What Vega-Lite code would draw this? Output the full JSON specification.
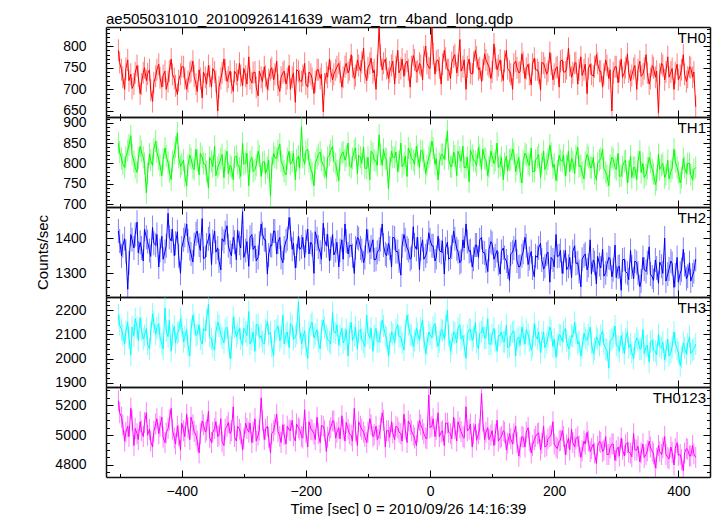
{
"$schema":"https://vega.github.io/schema/vega-lite/v6.json",
"background":"white",
"padding":{"left":35,"top":11,"right":5,"bottom":2},
"title":{"text":"ae505031010_20100926141639_wam2_trn_4band_long.qdp","anchor":"start","frame":"group","baseline":"alphabetic","offset":-17,"fontSize":15,"fontWeight":"normal","font":"Liberation Sans","color":"#000"},
"data":{"values":[
{"t":-502,"a":790,"b":850,"c":1420,"d":2180,"e":5230},
{"t":-497,"a":745,"b":812,"c":1350,"d":2120,"e":5120},
{"t":-492,"a":700,"b":790,"c":1398,"d":2060,"e":4960},
{"t":-487,"a":768,"b":832,"c":1255,"d":2150,"e":5060},
{"t":-482,"a":735,"b":868,"c":1410,"d":2015,"e":5180},
{"t":-477,"a":712,"b":805,"c":1372,"d":2095,"e":4930},
{"t":-472,"a":755,"b":778,"c":1445,"d":2130,"e":5010},
{"t":-467,"a":690,"b":842,"c":1388,"d":2170,"e":5090},
{"t":-462,"a":738,"b":815,"c":1335,"d":2080,"e":4990},
{"t":-457,"a":720,"b":728,"c":1402,"d":2125,"e":5150},
{"t":-452,"a":745,"b":823,"c":1365,"d":2040,"e":5040},
{"t":-447,"a":672,"b":795,"c":1430,"d":2185,"e":4920},
{"t":-442,"a":730,"b":855,"c":1380,"d":2100,"e":5075},
{"t":-437,"a":758,"b":810,"c":1318,"d":2145,"e":5010},
{"t":-432,"a":705,"b":770,"c":1405,"d":2060,"e":5120},
{"t":-427,"a":742,"b":838,"c":1362,"d":2210,"e":4950},
{"t":-422,"a":718,"b":802,"c":1470,"d":2090,"e":5045},
{"t":-417,"a":770,"b":760,"c":1392,"d":2030,"e":5180},
{"t":-412,"a":725,"b":825,"c":1350,"d":2135,"e":4980},
{"t":-407,"a":688,"b":875,"c":1418,"d":2105,"e":5060},
{"t":-402,"a":735,"b":792,"c":1300,"d":2165,"e":4900},
{"t":-397,"a":752,"b":808,"c":1395,"d":2070,"e":5030},
{"t":-392,"a":700,"b":745,"c":1440,"d":2120,"e":5140},
{"t":-387,"a":738,"b":820,"c":1370,"d":2010,"e":4970},
{"t":-382,"a":765,"b":790,"c":1332,"d":2180,"e":5070},
{"t":-377,"a":712,"b":835,"c":1412,"d":2095,"e":5000},
{"t":-372,"a":745,"b":772,"c":1380,"d":2140,"e":4880},
{"t":-367,"a":680,"b":815,"c":1455,"d":2060,"e":5095},
{"t":-362,"a":728,"b":798,"c":1345,"d":2115,"e":5020},
{"t":-357,"a":755,"b":740,"c":1398,"d":2225,"e":5160},
{"t":-352,"a":705,"b":805,"c":1325,"d":2080,"e":4950},
{"t":-347,"a":740,"b":842,"c":1420,"d":2035,"e":5045},
{"t":-342,"a":650,"b":790,"c":1372,"d":2150,"e":4990},
{"t":-337,"a":725,"b":812,"c":1310,"d":2100,"e":5110},
{"t":-332,"a":770,"b":765,"c":1390,"d":2065,"e":4930},
{"t":-327,"a":718,"b":830,"c":1435,"d":2130,"e":5060},
{"t":-322,"a":742,"b":795,"c":1360,"d":2000,"e":5010},
{"t":-317,"a":695,"b":760,"c":1402,"d":2170,"e":5190},
{"t":-312,"a":735,"b":818,"c":1338,"d":2090,"e":4960},
{"t":-307,"a":760,"b":788,"c":1385,"d":2125,"e":5040},
{"t":-302,"a":708,"b":850,"c":1475,"d":2055,"e":4900},
{"t":-297,"a":730,"b":802,"c":1365,"d":2110,"e":5080},
{"t":-292,"a":775,"b":745,"c":1320,"d":2195,"e":5020},
{"t":-287,"a":715,"b":815,"c":1410,"d":2080,"e":4950},
{"t":-282,"a":740,"b":785,"c":1378,"d":2030,"e":5110},
{"t":-277,"a":685,"b":830,"c":1345,"d":2140,"e":5000},
{"t":-272,"a":728,"b":768,"c":1440,"d":2095,"e":5250},
{"t":-267,"a":752,"b":805,"c":1395,"d":2060,"e":4970},
{"t":-262,"a":700,"b":790,"c":1298,"d":2155,"e":5060},
{"t":-257,"a":745,"b":720,"c":1380,"d":2110,"e":4880},
{"t":-252,"a":722,"b":825,"c":1420,"d":2010,"e":5030},
{"t":-247,"a":765,"b":812,"c":1355,"d":2120,"e":5140},
{"t":-242,"a":695,"b":848,"c":1402,"d":2075,"e":4990},
{"t":-237,"a":738,"b":795,"c":1330,"d":2180,"e":5070},
{"t":-232,"a":712,"b":772,"c":1392,"d":2100,"e":4940},
{"t":-227,"a":755,"b":830,"c":1458,"d":2045,"e":5035},
{"t":-222,"a":728,"b":805,"c":1368,"d":2135,"e":5100},
{"t":-217,"a":670,"b":760,"c":1315,"d":2090,"e":4960},
{"t":-212,"a":742,"b":818,"c":1405,"d":2235,"e":5050},
{"t":-207,"a":718,"b":890,"c":1375,"d":2060,"e":4990},
{"t":-202,"a":760,"b":798,"c":1345,"d":2115,"e":5170},
{"t":-197,"a":705,"b":835,"c":1425,"d":2000,"e":4920},
{"t":-192,"a":735,"b":785,"c":1388,"d":2140,"e":5040},
{"t":-187,"a":690,"b":745,"c":1300,"d":2085,"e":5010},
{"t":-182,"a":745,"b":812,"c":1398,"d":2120,"e":5120},
{"t":-177,"a":725,"b":828,"c":1360,"d":2040,"e":4950},
{"t":-172,"a":648,"b":795,"c":1442,"d":2160,"e":5060},
{"t":-167,"a":738,"b":765,"c":1378,"d":2095,"e":4890},
{"t":-162,"a":770,"b":820,"c":1335,"d":2070,"e":5030},
{"t":-157,"a":722,"b":842,"c":1410,"d":2190,"e":5095},
{"t":-152,"a":745,"b":800,"c":1365,"d":2105,"e":4980},
{"t":-147,"a":760,"b":758,"c":1318,"d":2055,"e":5050},
{"t":-142,"a":705,"b":825,"c":1395,"d":2125,"e":5130},
{"t":-137,"a":752,"b":808,"c":1440,"d":2080,"e":4960},
{"t":-132,"a":738,"b":850,"c":1355,"d":2010,"e":5040},
{"t":-127,"a":780,"b":790,"c":1380,"d":2150,"e":5000},
{"t":-122,"a":725,"b":832,"c":1300,"d":2095,"e":5180},
{"t":-117,"a":768,"b":775,"c":1402,"d":2040,"e":4930},
{"t":-112,"a":742,"b":815,"c":1372,"d":2120,"e":5060},
{"t":-107,"a":795,"b":840,"c":1330,"d":2065,"e":5020},
{"t":-102,"a":720,"b":788,"c":1425,"d":2180,"e":4950},
{"t":-97,"a":760,"b":760,"c":1360,"d":2085,"e":5110},
{"t":-92,"a":738,"b":825,"c":1395,"d":2030,"e":4990},
{"t":-87,"a":700,"b":805,"c":1340,"d":2125,"e":5060},
{"t":-82,"a":842,"b":870,"c":1368,"d":2070,"e":5000},
{"t":-77,"a":745,"b":795,"c":1440,"d":2160,"e":5150},
{"t":-72,"a":770,"b":812,"c":1355,"d":2095,"e":4920},
{"t":-67,"a":725,"b":738,"c":1385,"d":2010,"e":5030},
{"t":-62,"a":755,"b":830,"c":1318,"d":2110,"e":5090},
{"t":-57,"a":712,"b":815,"c":1400,"d":2065,"e":4970},
{"t":-52,"a":790,"b":780,"c":1362,"d":2140,"e":5050},
{"t":-47,"a":748,"b":850,"c":1295,"d":2090,"e":5010},
{"t":-42,"a":730,"b":800,"c":1410,"d":2035,"e":5140},
{"t":-37,"a":765,"b":768,"c":1372,"d":2180,"e":4950},
{"t":-32,"a":705,"b":825,"c":1340,"d":2100,"e":5070},
{"t":-27,"a":778,"b":808,"c":1432,"d":2050,"e":5000},
{"t":-22,"a":740,"b":842,"c":1368,"d":2125,"e":4930},
{"t":-17,"a":760,"b":790,"c":1310,"d":2075,"e":5100},
{"t":-12,"a":722,"b":830,"c":1395,"d":2160,"e":5040},
{"t":-7,"a":800,"b":775,"c":1350,"d":2020,"e":4980},
{"t":-2,"a":750,"b":815,"c":1415,"d":2110,"e":5270},
{"t":3,"a":843,"b":855,"c":1378,"d":2085,"e":5060},
{"t":8,"a":735,"b":798,"c":1335,"d":2145,"e":4990},
{"t":13,"a":768,"b":760,"c":1405,"d":2050,"e":5150},
{"t":18,"a":712,"b":822,"c":1360,"d":2120,"e":5020},
{"t":23,"a":790,"b":810,"c":1298,"d":2080,"e":4930},
{"t":28,"a":745,"b":880,"c":1388,"d":2200,"e":5080},
{"t":33,"a":725,"b":792,"c":1345,"d":2030,"e":5010},
{"t":38,"a":775,"b":828,"c":1420,"d":2110,"e":5120},
{"t":43,"a":738,"b":770,"c":1370,"d":2065,"e":4960},
{"t":48,"a":815,"b":815,"c":1330,"d":2140,"e":5050},
{"t":53,"a":752,"b":842,"c":1395,"d":2095,"e":4990},
{"t":58,"a":700,"b":790,"c":1440,"d":2000,"e":5190},
{"t":63,"a":770,"b":755,"c":1362,"d":2120,"e":5040},
{"t":68,"a":735,"b":820,"c":1318,"d":2075,"e":4920},
{"t":73,"a":790,"b":805,"c":1380,"d":2150,"e":5070},
{"t":78,"a":745,"b":840,"c":1345,"d":2040,"e":5010},
{"t":83,"a":718,"b":785,"c":1402,"d":2110,"e":5280},
{"t":88,"a":782,"b":812,"c":1358,"d":2085,"e":4970},
{"t":93,"a":758,"b":770,"c":1305,"d":2165,"e":5050},
{"t":98,"a":725,"b":830,"c":1390,"d":2060,"e":5000},
{"t":103,"a":805,"b":800,"c":1340,"d":2125,"e":4930},
{"t":108,"a":745,"b":850,"c":1365,"d":2030,"e":5100},
{"t":113,"a":768,"b":795,"c":1298,"d":2095,"e":4980},
{"t":118,"a":720,"b":760,"c":1372,"d":2070,"e":5030},
{"t":123,"a":790,"b":818,"c":1335,"d":2140,"e":4900},
{"t":128,"a":742,"b":808,"c":1280,"d":2050,"e":5010},
{"t":133,"a":700,"b":835,"c":1360,"d":2110,"e":4940},
{"t":138,"a":765,"b":780,"c":1395,"d":2010,"e":5060},
{"t":143,"a":738,"b":815,"c":1318,"d":2090,"e":4860},
{"t":148,"a":782,"b":752,"c":1350,"d":2130,"e":4990},
{"t":153,"a":725,"b":825,"c":1402,"d":2060,"e":4920},
{"t":158,"a":758,"b":800,"c":1325,"d":2100,"e":5050},
{"t":163,"a":710,"b":838,"c":1362,"d":2035,"e":4880},
{"t":168,"a":772,"b":780,"c":1290,"d":2145,"e":4970},
{"t":173,"a":745,"b":815,"c":1345,"d":2080,"e":5010},
{"t":178,"a":698,"b":765,"c":1385,"d":2025,"e":4900},
{"t":183,"a":760,"b":830,"c":1312,"d":2110,"e":5060},
{"t":188,"a":735,"b":798,"c":1355,"d":2065,"e":4930},
{"t":193,"a":785,"b":845,"c":1275,"d":2130,"e":4990},
{"t":198,"a":722,"b":790,"c":1338,"d":2050,"e":5090},
{"t":203,"a":750,"b":758,"c":1410,"d":2005,"e":4920},
{"t":208,"a":705,"b":820,"c":1350,"d":2100,"e":4960},
{"t":213,"a":768,"b":805,"c":1300,"d":2070,"e":5030},
{"t":218,"a":740,"b":770,"c":1365,"d":2125,"e":4870},
{"t":223,"a":795,"b":830,"c":1320,"d":2040,"e":4980},
{"t":228,"a":728,"b":812,"c":1288,"d":2095,"e":5040},
{"t":233,"a":760,"b":775,"c":1378,"d":2150,"e":4920},
{"t":238,"a":712,"b":840,"c":1330,"d":2060,"e":4990},
{"t":243,"a":775,"b":795,"c":1262,"d":2010,"e":4850},
{"t":248,"a":745,"b":762,"c":1350,"d":2105,"e":4960},
{"t":253,"a":690,"b":822,"c":1310,"d":2075,"e":5020},
{"t":258,"a":758,"b":790,"c":1395,"d":2130,"e":4890},
{"t":263,"a":730,"b":815,"c":1338,"d":2020,"e":4940},
{"t":268,"a":780,"b":760,"c":1270,"d":2090,"e":4810},
{"t":273,"a":742,"b":808,"c":1325,"d":2055,"e":4960},
{"t":278,"a":705,"b":835,"c":1368,"d":2115,"e":4890},
{"t":283,"a":768,"b":778,"c":1302,"d":2040,"e":4990},
{"t":288,"a":725,"b":745,"c":1345,"d":1960,"e":4870},
{"t":293,"a":650,"b":815,"c":1290,"d":2080,"e":4940},
{"t":298,"a":752,"b":790,"c":1380,"d":2135,"e":4830},
{"t":303,"a":715,"b":825,"c":1318,"d":2050,"e":4920},
{"t":308,"a":770,"b":770,"c":1252,"d":2095,"e":4980},
{"t":313,"a":738,"b":805,"c":1340,"d":2020,"e":4860},
{"t":318,"a":782,"b":752,"c":1300,"d":2110,"e":4950},
{"t":323,"a":720,"b":818,"c":1365,"d":2060,"e":4880},
{"t":328,"a":748,"b":790,"c":1285,"d":2000,"e":5010},
{"t":333,"a":700,"b":760,"c":1330,"d":2085,"e":4900},
{"t":338,"a":765,"b":830,"c":1262,"d":2040,"e":4820},
{"t":343,"a":735,"b":800,"c":1345,"d":2120,"e":4940},
{"t":348,"a":780,"b":772,"c":1305,"d":2050,"e":4870},
{"t":353,"a":712,"b":815,"c":1375,"d":1985,"e":4960},
{"t":358,"a":755,"b":785,"c":1290,"d":2075,"e":4890},
{"t":363,"a":728,"b":748,"c":1338,"d":2030,"e":4780},
{"t":368,"a":645,"b":822,"c":1272,"d":2100,"e":4930},
{"t":373,"a":760,"b":795,"c":1320,"d":2045,"e":4870},
{"t":378,"a":722,"b":765,"c":1400,"d":1995,"e":4990},
{"t":383,"a":775,"b":808,"c":1298,"d":2080,"e":4850},
{"t":388,"a":740,"b":780,"c":1335,"d":2025,"e":4920},
{"t":393,"a":700,"b":835,"c":1260,"d":2110,"e":4800},
{"t":398,"a":758,"b":790,"c":1345,"d":2040,"e":4950},
{"t":403,"a":732,"b":752,"c":1300,"d":1970,"e":4870},
{"t":408,"a":780,"b":812,"c":1368,"d":2065,"e":4760},
{"t":413,"a":718,"b":775,"c":1285,"d":2020,"e":4910},
{"t":418,"a":752,"b":800,"c":1330,"d":2090,"e":4860},
{"t":423,"a":728,"b":760,"c":1295,"d":2035,"e":4930},
{"t":428,"a":660,"b":790,"c":1340,"d":2060,"e":4850},
{"t":-500,"a":762,"b":828,"c":1392,"d":2140,"e":5150},
{"t":-495,"a":728,"b":798,"c":1378,"d":2098,"e":5070},
{"t":-490,"a":748,"b":815,"c":1362,"d":2110,"e":5020},
{"t":-485,"a":720,"b":845,"c":1330,"d":2085,"e":4990},
{"t":-480,"a":702,"b":822,"c":1395,"d":2130,"e":5100},
{"t":-475,"a":738,"b":790,"c":1410,"d":2165,"e":5045},
{"t":-470,"a":730,"b":812,"c":1358,"d":2075,"e":4970},
{"t":-465,"a":712,"b":830,"c":1372,"d":2120,"e":5030},
{"t":-460,"a":750,"b":800,"c":1425,"d":2095,"e":5085},
{"t":-455,"a":736,"b":775,"c":1390,"d":2060,"e":5000},
{"t":-450,"a":698,"b":808,"c":1348,"d":2105,"e":4960},
{"t":-445,"a":715,"b":835,"c":1385,"d":2150,"e":5025},
{"t":-440,"a":745,"b":828,"c":1410,"d":2128,"e":5110},
{"t":-435,"a":727,"b":795,"c":1365,"d":2088,"e":5060},
{"t":-430,"a":732,"b":810,"c":1340,"d":2040,"e":4985},
{"t":-425,"a":700,"b":818,"c":1378,"d":2115,"e":5015},
{"t":-420,"a":742,"b":780,"c":1402,"d":2160,"e":5100},
{"t":-415,"a":735,"b":805,"c":1425,"d":2098,"e":5040},
{"t":-410,"a":708,"b":840,"c":1385,"d":2065,"e":4940},
{"t":-405,"a":720,"b":815,"c":1350,"d":2110,"e":5000},
{"t":-400,"a":752,"b":798,"c":1372,"d":2135,"e":5080},
{"t":-395,"a":725,"b":770,"c":1408,"d":2090,"e":4990},
{"t":-390,"a":718,"b":795,"c":1392,"d":2055,"e":5050},
{"t":-385,"a":742,"b":812,"c":1355,"d":2120,"e":5120},
{"t":-380,"a":730,"b":785,"c":1382,"d":2145,"e":5025},
{"t":-375,"a":695,"b":808,"c":1420,"d":2100,"e":4960},
{"t":-370,"a":725,"b":825,"c":1365,"d":2080,"e":5010},
{"t":-365,"a":740,"b":800,"c":1342,"d":2125,"e":5070},
{"t":-360,"a":712,"b":780,"c":1380,"d":2160,"e":5035},
{"t":-355,"a":730,"b":815,"c":1412,"d":2090,"e":4985},
{"t":-350,"a":748,"b":792,"c":1390,"d":2050,"e":5020},
{"t":-345,"a":718,"b":770,"c":1360,"d":2110,"e":5090},
{"t":-340,"a":705,"b":798,"c":1335,"d":2135,"e":5000},
{"t":-335,"a":738,"b":822,"c":1398,"d":2085,"e":4955},
{"t":-330,"a":745,"b":808,"c":1415,"d":2120,"e":5040},
{"t":-325,"a":728,"b":775,"c":1378,"d":2075,"e":5085},
{"t":-320,"a":715,"b":790,"c":1350,"d":2045,"e":5030},
{"t":-315,"a":742,"b":815,"c":1388,"d":2130,"e":4990},
{"t":-310,"a":720,"b":800,"c":1422,"d":2105,"e":5060},
{"t":-305,"a":732,"b":768,"c":1372,"d":2080,"e":5010},
{"t":-300,"a":748,"b":798,"c":1345,"d":2125,"e":4975},
{"t":-295,"a":712,"b":825,"c":1390,"d":2095,"e":5045},
{"t":-290,"a":725,"b":805,"c":1402,"d":2060,"e":5080},
{"t":-285,"a":738,"b":780,"c":1368,"d":2110,"e":5020},
{"t":-280,"a":705,"b":795,"c":1335,"d":2140,"e":4960},
{"t":-275,"a":742,"b":818,"c":1385,"d":2085,"e":5035},
{"t":-270,"a":718,"b":802,"c":1412,"d":2070,"e":5100},
{"t":-265,"a":730,"b":775,"c":1395,"d":2120,"e":5040},
{"t":-260,"a":722,"b":808,"c":1352,"d":2100,"e":4985},
{"t":-255,"a":750,"b":790,"c":1378,"d":2050,"e":5010},
{"t":-250,"a":735,"b":815,"c":1420,"d":2115,"e":5070},
{"t":-245,"a":710,"b":832,"c":1388,"d":2135,"e":5025},
{"t":-240,"a":728,"b":805,"c":1345,"d":2090,"e":4950},
{"t":-235,"a":742,"b":780,"c":1372,"d":2060,"e":5005},
{"t":-230,"a":725,"b":812,"c":1398,"d":2110,"e":5060},
{"t":-225,"a":700,"b":798,"c":1425,"d":2145,"e":5030},
{"t":-220,"a":738,"b":825,"c":1385,"d":2080,"e":4995},
{"t":-215,"a":745,"b":808,"c":1350,"d":2105,"e":5075},
{"t":-210,"a":720,"b":788,"c":1368,"d":2125,"e":5040},
{"t":-205,"a":732,"b":815,"c":1402,"d":2085,"e":4980},
{"t":-200,"a":712,"b":830,"c":1390,"d":2055,"e":5020},
{"t":-195,"a":740,"b":805,"c":1355,"d":2110,"e":5090},
{"t":-190,"a":725,"b":778,"c":1382,"d":2150,"e":5035},
{"t":-185,"a":718,"b":800,"c":1418,"d":2100,"e":4970},
{"t":-180,"a":745,"b":822,"c":1375,"d":2070,"e":5010},
{"t":-175,"a":735,"b":808,"c":1340,"d":2115,"e":5065},
{"t":-170,"a":712,"b":790,"c":1395,"d":2130,"e":5030},
{"t":-165,"a":728,"b":815,"c":1410,"d":2080,"e":4985},
{"t":-160,"a":742,"b":832,"c":1370,"d":2060,"e":5050},
{"t":-155,"a":735,"b":805,"c":1352,"d":2110,"e":5095},
{"t":-150,"a":752,"b":782,"c":1388,"d":2140,"e":5020},
{"t":-145,"a":740,"b":810,"c":1365,"d":2095,"e":4975},
{"t":-140,"a":728,"b":828,"c":1340,"d":2065,"e":5040},
{"t":-135,"a":760,"b":818,"c":1392,"d":2120,"e":5085},
{"t":-130,"a":745,"b":795,"c":1378,"d":2105,"e":5010},
{"t":-125,"a":752,"b":812,"c":1350,"d":2075,"e":4960},
{"t":-120,"a":732,"b":838,"c":1372,"d":2130,"e":5030},
{"t":-115,"a":755,"b":820,"c":1398,"d":2110,"e":5090},
{"t":-110,"a":762,"b":800,"c":1365,"d":2080,"e":5040},
{"t":-105,"a":738,"b":788,"c":1345,"d":2050,"e":4990},
{"t":-100,"a":750,"b":815,"c":1390,"d":2105,"e":5020},
{"t":-95,"a":772,"b":830,"c":1375,"d":2125,"e":5070},
{"t":-90,"a":745,"b":808,"c":1338,"d":2095,"e":5005},
{"t":-85,"a":755,"b":795,"c":1360,"d":2070,"e":4970},
{"t":-80,"a":778,"b":822,"c":1395,"d":2110,"e":5045},
{"t":-75,"a":760,"b":835,"c":1380,"d":2135,"e":5100},
{"t":-70,"a":748,"b":810,"c":1350,"d":2085,"e":5030},
{"t":-65,"a":740,"b":790,"c":1372,"d":2060,"e":4985},
{"t":-60,"a":765,"b":815,"c":1402,"d":2100,"e":5015},
{"t":-55,"a":752,"b":828,"c":1362,"d":2120,"e":5060},
{"t":-50,"a":738,"b":805,"c":1335,"d":2090,"e":5020},
{"t":-45,"a":770,"b":792,"c":1378,"d":2065,"e":4960},
{"t":-40,"a":758,"b":818,"c":1395,"d":2115,"e":5040},
{"t":-35,"a":745,"b":838,"c":1365,"d":2140,"e":5095},
{"t":-30,"a":752,"b":812,"c":1345,"d":2095,"e":5030},
{"t":-25,"a":768,"b":798,"c":1380,"d":2075,"e":4980},
{"t":-20,"a":742,"b":820,"c":1402,"d":2105,"e":5025},
{"t":-15,"a":755,"b":832,"c":1370,"d":2125,"e":5070},
{"t":-10,"a":775,"b":808,"c":1340,"d":2085,"e":5010},
{"t":-5,"a":760,"b":795,"c":1362,"d":2060,"e":4975},
{"t":0,"a":748,"b":825,"c":1395,"d":2100,"e":5050},
{"t":5,"a":782,"b":838,"c":1378,"d":2130,"e":5110},
{"t":10,"a":765,"b":812,"c":1345,"d":2090,"e":5040},
{"t":15,"a":750,"b":800,"c":1365,"d":2070,"e":4990},
{"t":20,"a":758,"b":822,"c":1392,"d":2115,"e":5030},
{"t":25,"a":772,"b":835,"c":1370,"d":2135,"e":5080},
{"t":30,"a":745,"b":810,"c":1340,"d":2095,"e":5020},
{"t":35,"a":762,"b":792,"c":1375,"d":2060,"e":4975},
{"t":40,"a":780,"b":818,"c":1398,"d":2105,"e":5045},
{"t":45,"a":755,"b":830,"c":1362,"d":2125,"e":5090},
{"t":50,"a":742,"b":805,"c":1335,"d":2080,"e":5025},
{"t":55,"a":768,"b":790,"c":1372,"d":2055,"e":4980},
{"t":60,"a":752,"b":815,"c":1390,"d":2100,"e":5030},
{"t":65,"a":738,"b":832,"c":1365,"d":2120,"e":5075},
{"t":70,"a":762,"b":808,"c":1340,"d":2090,"e":5010},
{"t":75,"a":775,"b":795,"c":1380,"d":2065,"e":4965},
{"t":80,"a":750,"b":820,"c":1395,"d":2105,"e":5040},
{"t":85,"a":745,"b":835,"c":1360,"d":2130,"e":5095},
{"t":90,"a":768,"b":810,"c":1335,"d":2085,"e":5020},
{"t":95,"a":752,"b":792,"c":1368,"d":2060,"e":4970},
{"t":100,"a":740,"b":818,"c":1385,"d":2100,"e":5030},
{"t":105,"a":772,"b":808,"c":1350,"d":2075,"e":5005},
{"t":110,"a":755,"b":790,"c":1328,"d":2095,"e":4960},
{"t":115,"a":742,"b":815,"c":1362,"d":2110,"e":4990},
{"t":120,"a":765,"b":800,"c":1345,"d":2070,"e":5020},
{"t":125,"a":748,"b":782,"c":1318,"d":2045,"e":4945},
{"t":130,"a":735,"b":810,"c":1355,"d":2095,"e":4975},
{"t":135,"a":758,"b":825,"c":1372,"d":2115,"e":5010},
{"t":140,"a":750,"b":798,"c":1335,"d":2080,"e":4950},
{"t":145,"a":740,"b":780,"c":1320,"d":2055,"e":4915},
{"t":150,"a":762,"b":805,"c":1360,"d":2100,"e":4985},
{"t":155,"a":748,"b":820,"c":1378,"d":2120,"e":5020},
{"t":160,"a":735,"b":795,"c":1342,"d":2075,"e":4960},
{"t":165,"a":758,"b":780,"c":1315,"d":2050,"e":4930},
{"t":170,"a":745,"b":808,"c":1350,"d":2095,"e":4990},
{"t":175,"a":738,"b":822,"c":1372,"d":2110,"e":5015},
{"t":180,"a":762,"b":800,"c":1338,"d":2070,"e":4945},
{"t":185,"a":750,"b":785,"c":1320,"d":2045,"e":4920},
{"t":190,"a":742,"b":810,"c":1360,"d":2090,"e":4975},
{"t":195,"a":758,"b":825,"c":1345,"d":2115,"e":5000},
{"t":200,"a":735,"b":798,"c":1318,"d":2080,"e":4940},
{"t":205,"a":752,"b":782,"c":1348,"d":2055,"e":4910},
{"t":210,"a":765,"b":808,"c":1365,"d":2095,"e":4965},
{"t":215,"a":740,"b":820,"c":1332,"d":2110,"e":4990},
{"t":220,"a":748,"b":795,"c":1310,"d":2075,"e":4935},
{"t":225,"a":755,"b":780,"c":1345,"d":2050,"e":4900},
{"t":230,"a":738,"b":805,"c":1362,"d":2090,"e":4950},
{"t":235,"a":762,"b":818,"c":1328,"d":2105,"e":4975},
{"t":240,"a":745,"b":792,"c":1305,"d":2070,"e":4925},
{"t":245,"a":732,"b":778,"c":1340,"d":2045,"e":4895},
{"t":250,"a":758,"b":802,"c":1355,"d":2085,"e":4940},
{"t":255,"a":748,"b":815,"c":1322,"d":2100,"e":4960},
{"t":260,"a":735,"b":790,"c":1298,"d":2065,"e":4910},
{"t":265,"a":752,"b":775,"c":1330,"d":2040,"e":4880},
{"t":270,"a":760,"b":800,"c":1348,"d":2080,"e":4925},
{"t":275,"a":742,"b":812,"c":1315,"d":2095,"e":4950},
{"t":280,"a":735,"b":788,"c":1292,"d":2060,"e":4900},
{"t":285,"a":755,"b":770,"c":1325,"d":2035,"e":4870},
{"t":290,"a":745,"b":795,"c":1342,"d":2075,"e":4915},
{"t":295,"a":738,"b":810,"c":1310,"d":2090,"e":4940},
{"t":300,"a":752,"b":785,"c":1288,"d":2055,"e":4895},
{"t":305,"a":742,"b":768,"c":1320,"d":2030,"e":4860},
{"t":310,"a":728,"b":792,"c":1338,"d":2065,"e":4905},
{"t":315,"a":750,"b":808,"c":1305,"d":2080,"e":4935},
{"t":320,"a":740,"b":780,"c":1282,"d":2045,"e":4885},
{"t":325,"a":732,"b":765,"c":1318,"d":2025,"e":4855},
{"t":330,"a":755,"b":790,"c":1335,"d":2060,"e":4900},
{"t":335,"a":745,"b":805,"c":1300,"d":2075,"e":4925},
{"t":340,"a":730,"b":778,"c":1278,"d":2040,"e":4880},
{"t":345,"a":748,"b":765,"c":1312,"d":2020,"e":4850},
{"t":350,"a":738,"b":788,"c":1330,"d":2055,"e":4895},
{"t":355,"a":725,"b":802,"c":1298,"d":2070,"e":4920},
{"t":360,"a":750,"b":775,"c":1280,"d":2035,"e":4875},
{"t":365,"a":742,"b":760,"c":1315,"d":2015,"e":4845},
{"t":370,"a":735,"b":785,"c":1332,"d":2050,"e":4890},
{"t":375,"a":755,"b":800,"c":1300,"d":2068,"e":4915},
{"t":380,"a":740,"b":772,"c":1278,"d":2030,"e":4870},
{"t":385,"a":728,"b":762,"c":1312,"d":2010,"e":4840},
{"t":390,"a":748,"b":788,"c":1328,"d":2048,"e":4885},
{"t":395,"a":738,"b":805,"c":1295,"d":2065,"e":4910},
{"t":400,"a":722,"b":778,"c":1275,"d":2025,"e":4865},
{"t":405,"a":745,"b":765,"c":1310,"d":2005,"e":4835},
{"t":410,"a":735,"b":790,"c":1325,"d":2045,"e":4880},
{"t":415,"a":728,"b":800,"c":1292,"d":2060,"e":4905},
{"t":420,"a":750,"b":772,"c":1278,"d":2020,"e":4860},
{"t":425,"a":740,"b":785,"c":1305,"d":2040,"e":4875}
]},
"spacing":0,
"bounds":"flush",
"vconcat":[
{"width":604,"height":90,
"layer":[
{"mark":{"type":"tick","orient":"vertical","size":22,"thickness":1,"opacity":0.5,"color":"#ff0000","clip":true},
"encoding":{"x":{"field":"t","type":"quantitative","scale":{"domain":[-522,451],"nice":false,"zero":false},"axis":{"orient":"bottom","title":null,"labels":false,"values":[-500,-400,-300,-200,-100,0,100,200,300,400],"tickSize":{"condition":{"test":"datum.value % 200 === 0","value":-7},"value":-3.5}}},
"y":{"field":"a","type":"quantitative","scale":{"domain":[636,844],"nice":false,"zero":false},"axis":{"orient":"left","title":null,"format":"d","values":[640,650,660,670,680,690,700,710,720,730,740,750,760,770,780,790,800,810,820,830,840],"labelExpr":"datum.value % 50 === 0 ? datum.label : ''","labelPadding":27,"tickSize":{"condition":{"test":"datum.value % 50 === 0","value":-7},"value":-3.5}}}}},
{"mark":{"type":"line","strokeWidth":1,"color":"#ff0000","clip":true},
"encoding":{"x":{"field":"t","type":"quantitative","scale":{"domain":[-522,451],"nice":false,"zero":false},"axis":{"orient":"top","title":null,"labels":false,"values":[-500,-400,-300,-200,-100,0,100,200,300,400],"tickSize":{"condition":{"test":"datum.value % 200 === 0","value":-7},"value":-3.5}}},
"y":{"field":"a","type":"quantitative","scale":{"domain":[636,844],"nice":false,"zero":false},"axis":{"orient":"right","title":null,"labels":false,"values":[640,650,660,670,680,690,700,710,720,730,740,750,760,770,780,790,800,810,820,830,840],"tickSize":{"condition":{"test":"datum.value % 50 === 0","value":-7},"value":-3.5}}}}},
{"data":{"values":[{"label":"TH0"}]},
"mark":{"type":"text","align":"right","baseline":"top","dx":-4,"dy":4,"fontSize":15,"font":"Liberation Sans","color":"#000"},
"encoding":{"x":{"datum":451,"type":"quantitative","axis":null},"y":{"datum":844,"type":"quantitative","axis":null},"text":{"field":"label"}}}
],
"resolve":{"axis":{"x":"independent","y":"independent"}}},
{"width":604,"height":90,
"layer":[
{"mark":{"type":"tick","orient":"vertical","size":22,"thickness":1,"opacity":0.5,"color":"#00ff00","clip":true},
"encoding":{"x":{"field":"t","type":"quantitative","scale":{"domain":[-522,451],"nice":false,"zero":false},"axis":{"orient":"bottom","title":null,"labels":false,"values":[-500,-400,-300,-200,-100,0,100,200,300,400],"tickSize":{"condition":{"test":"datum.value % 200 === 0","value":-7},"value":-3.5}}},
"y":{"field":"b","type":"quantitative","scale":{"domain":[693,914],"nice":false,"zero":false},"axis":{"orient":"left","title":null,"format":"d","values":[700,710,720,730,740,750,760,770,780,790,800,810,820,830,840,850,860,870,880,890,900,910],"labelExpr":"datum.value % 50 === 0 ? datum.label : ''","labelPadding":27,"tickSize":{"condition":{"test":"datum.value % 50 === 0","value":-7},"value":-3.5}}}}},
{"mark":{"type":"line","strokeWidth":1,"color":"#00ff00","clip":true},
"encoding":{"x":{"field":"t","type":"quantitative","scale":{"domain":[-522,451],"nice":false,"zero":false},"axis":{"orient":"top","title":null,"labels":false,"values":[-500,-400,-300,-200,-100,0,100,200,300,400],"tickSize":{"condition":{"test":"datum.value % 200 === 0","value":-7},"value":-3.5}}},
"y":{"field":"b","type":"quantitative","scale":{"domain":[693,914],"nice":false,"zero":false},"axis":{"orient":"right","title":null,"labels":false,"values":[700,710,720,730,740,750,760,770,780,790,800,810,820,830,840,850,860,870,880,890,900,910],"tickSize":{"condition":{"test":"datum.value % 50 === 0","value":-7},"value":-3.5}}}}},
{"data":{"values":[{"label":"TH1"}]},
"mark":{"type":"text","align":"right","baseline":"top","dx":-4,"dy":4,"fontSize":15,"font":"Liberation Sans","color":"#000"},
"encoding":{"x":{"datum":451,"type":"quantitative","axis":null},"y":{"datum":914,"type":"quantitative","axis":null},"text":{"field":"label"}}}
],
"resolve":{"axis":{"x":"independent","y":"independent"}}},
{"width":604,"height":90,
"layer":[
{"mark":{"type":"tick","orient":"vertical","size":24,"thickness":1,"opacity":0.5,"color":"#0000ff","clip":true},
"encoding":{"x":{"field":"t","type":"quantitative","scale":{"domain":[-522,451],"nice":false,"zero":false},"axis":{"orient":"bottom","title":null,"labels":false,"values":[-500,-400,-300,-200,-100,0,100,200,300,400],"tickSize":{"condition":{"test":"datum.value % 200 === 0","value":-7},"value":-3.5}}},
"y":{"field":"c","type":"quantitative","scale":{"domain":[1233,1488],"nice":false,"zero":false},"axis":{"orient":"left","title":"Counts/sec","titlePadding":4,"format":"d","values":[1240,1260,1280,1300,1320,1340,1360,1380,1400,1420,1440,1460,1480],"labelExpr":"datum.value % 100 === 0 ? datum.label : ''","labelPadding":27,"tickSize":{"condition":{"test":"datum.value % 100 === 0","value":-7},"value":-3.5}}}}},
{"mark":{"type":"line","strokeWidth":1,"color":"#0000ff","clip":true},
"encoding":{"x":{"field":"t","type":"quantitative","scale":{"domain":[-522,451],"nice":false,"zero":false},"axis":{"orient":"top","title":null,"labels":false,"values":[-500,-400,-300,-200,-100,0,100,200,300,400],"tickSize":{"condition":{"test":"datum.value % 200 === 0","value":-7},"value":-3.5}}},
"y":{"field":"c","type":"quantitative","scale":{"domain":[1233,1488],"nice":false,"zero":false},"axis":{"orient":"right","title":null,"labels":false,"values":[1240,1260,1280,1300,1320,1340,1360,1380,1400,1420,1440,1460,1480],"tickSize":{"condition":{"test":"datum.value % 100 === 0","value":-7},"value":-3.5}}}}},
{"data":{"values":[{"label":"TH2"}]},
"mark":{"type":"text","align":"right","baseline":"top","dx":-4,"dy":4,"fontSize":15,"font":"Liberation Sans","color":"#000"},
"encoding":{"x":{"datum":451,"type":"quantitative","axis":null},"y":{"datum":1488,"type":"quantitative","axis":null},"text":{"field":"label"}}}
],
"resolve":{"axis":{"x":"independent","y":"independent"}}},
{"width":604,"height":90,
"layer":[
{"mark":{"type":"tick","orient":"vertical","size":22,"thickness":1,"opacity":0.5,"color":"#00ffff","clip":true},
"encoding":{"x":{"field":"t","type":"quantitative","scale":{"domain":[-522,451],"nice":false,"zero":false},"axis":{"orient":"bottom","title":null,"labels":false,"values":[-500,-400,-300,-200,-100,0,100,200,300,400],"tickSize":{"condition":{"test":"datum.value % 200 === 0","value":-7},"value":-3.5}}},
"y":{"field":"d","type":"quantitative","scale":{"domain":[1882,2255],"nice":false,"zero":false},"axis":{"orient":"left","title":null,"format":"d","values":[1900,1920,1940,1960,1980,2000,2020,2040,2060,2080,2100,2120,2140,2160,2180,2200,2220,2240],"labelExpr":"datum.value % 100 === 0 ? datum.label : ''","labelPadding":27,"tickSize":{"condition":{"test":"datum.value % 100 === 0","value":-7},"value":-3.5}}}}},
{"mark":{"type":"line","strokeWidth":1,"color":"#00ffff","clip":true},
"encoding":{"x":{"field":"t","type":"quantitative","scale":{"domain":[-522,451],"nice":false,"zero":false},"axis":{"orient":"top","title":null,"labels":false,"values":[-500,-400,-300,-200,-100,0,100,200,300,400],"tickSize":{"condition":{"test":"datum.value % 200 === 0","value":-7},"value":-3.5}}},
"y":{"field":"d","type":"quantitative","scale":{"domain":[1882,2255],"nice":false,"zero":false},"axis":{"orient":"right","title":null,"labels":false,"values":[1900,1920,1940,1960,1980,2000,2020,2040,2060,2080,2100,2120,2140,2160,2180,2200,2220,2240],"tickSize":{"condition":{"test":"datum.value % 100 === 0","value":-7},"value":-3.5}}}}},
{"data":{"values":[{"label":"TH3"}]},
"mark":{"type":"text","align":"right","baseline":"top","dx":-4,"dy":4,"fontSize":15,"font":"Liberation Sans","color":"#000"},
"encoding":{"x":{"datum":451,"type":"quantitative","axis":null},"y":{"datum":2255,"type":"quantitative","axis":null},"text":{"field":"label"}}}
],
"resolve":{"axis":{"x":"independent","y":"independent"}}},
{"width":604,"height":90,
"layer":[
{"mark":{"type":"tick","orient":"vertical","size":21,"thickness":1,"opacity":0.5,"color":"#ff00ff","clip":true},
"encoding":{"x":{"field":"t","type":"quantitative","scale":{"domain":[-522,451],"nice":false,"zero":false},"axis":{"orient":"bottom","title":"Time [sec] 0 = 2010/09/26 14:16:39","titlePadding":0,"values":[-500,-400,-300,-200,-100,0,100,200,300,400],"labelExpr":"datum.value % 200 === 0 ? datum.label : ''","labelPadding":14,"tickSize":{"condition":{"test":"datum.value % 200 === 0","value":-7},"value":-3.5}}},
"y":{"field":"e","type":"quantitative","scale":{"domain":[4719,5323],"nice":false,"zero":false},"axis":{"orient":"left","title":null,"format":"d","values":[4750,4800,4850,4900,4950,5000,5050,5100,5150,5200,5250,5300],"labelExpr":"datum.value % 200 === 0 ? datum.label : ''","labelPadding":27,"tickSize":{"condition":{"test":"datum.value % 200 === 0","value":-7},"value":-3.5}}}}},
{"mark":{"type":"line","strokeWidth":1,"color":"#ff00ff","clip":true},
"encoding":{"x":{"field":"t","type":"quantitative","scale":{"domain":[-522,451],"nice":false,"zero":false},"axis":{"orient":"top","title":null,"labels":false,"values":[-500,-400,-300,-200,-100,0,100,200,300,400],"tickSize":{"condition":{"test":"datum.value % 200 === 0","value":-7},"value":-3.5}}},
"y":{"field":"e","type":"quantitative","scale":{"domain":[4719,5323],"nice":false,"zero":false},"axis":{"orient":"right","title":null,"labels":false,"values":[4750,4800,4850,4900,4950,5000,5050,5100,5150,5200,5250,5300],"tickSize":{"condition":{"test":"datum.value % 200 === 0","value":-7},"value":-3.5}}}}},
{"data":{"values":[{"label":"TH0123"}]},
"mark":{"type":"text","align":"right","baseline":"top","dx":-4,"dy":4,"fontSize":15,"font":"Liberation Sans","color":"#000"},
"encoding":{"x":{"datum":451,"type":"quantitative","axis":null},"y":{"datum":5323,"type":"quantitative","axis":null},"text":{"field":"label"}}}
],
"resolve":{"axis":{"x":"independent","y":"independent"}}}
],
"config":{
"font":"Liberation Sans",
"view":{"stroke":null},
"axis":{"domainColor":"#111","domainWidth":1.5,"tickColor":"#000","tickWidth":1,"grid":false,"labelFont":"Liberation Sans","labelFontSize":14,"labelColor":"#000","titleFont":"Liberation Sans","titleFontSize":15,"titleFontWeight":"normal","titleColor":"#000","labelOverlap":false,"labelFlush":false}
}
}
